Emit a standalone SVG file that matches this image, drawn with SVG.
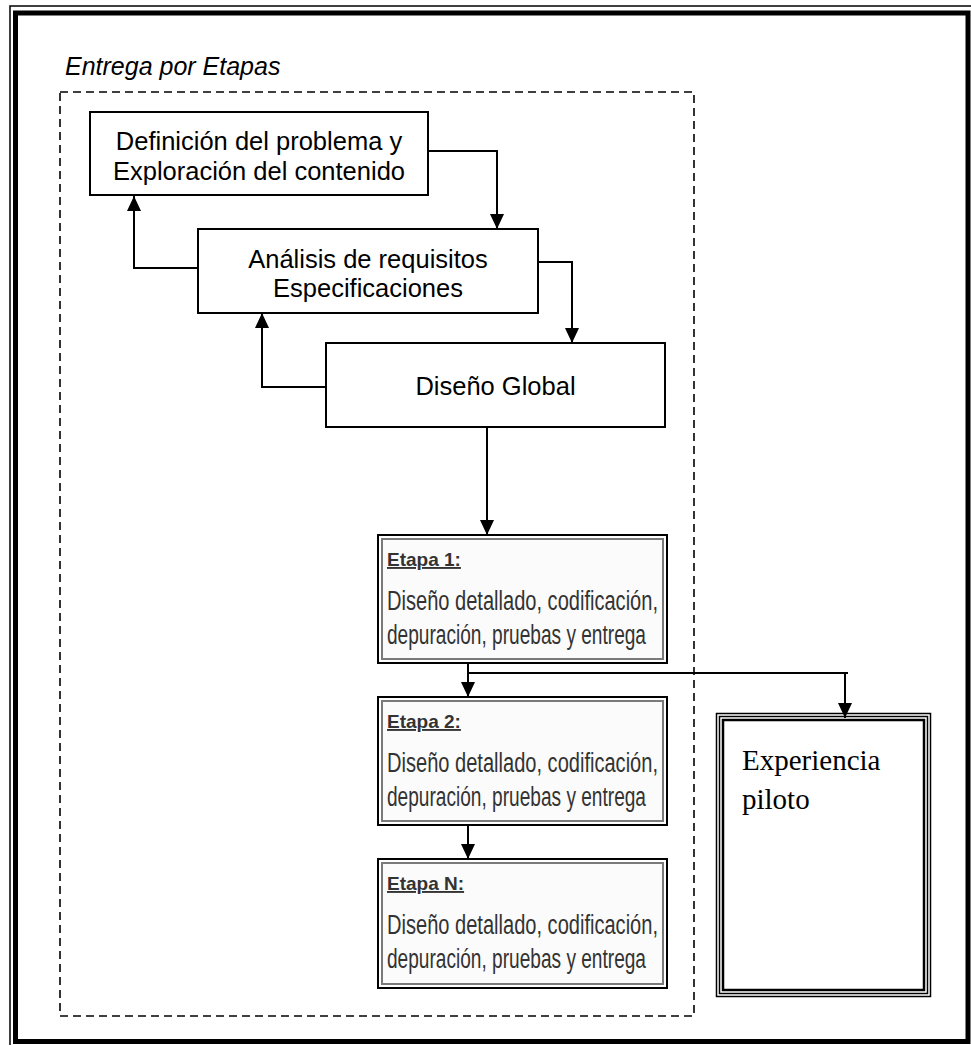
<svg xmlns="http://www.w3.org/2000/svg" width="971" height="1045" viewBox="0 0 971 1045">
  <defs>
    <marker id="arrow" viewBox="0 0 15 14" refX="15" refY="7" markerWidth="15" markerHeight="14" markerUnits="userSpaceOnUse" orient="auto">
      <path d="M0,0 L15,7 L0,14 Z" fill="#000"/>
    </marker>
    <style>
      .box { fill: #fff; stroke: #000; stroke-width: 2; }
      .lbl { font-family: "Liberation Sans", Arial, sans-serif; font-size: 25.5px; fill: #000; text-anchor: middle; }
      .wire { fill: none; stroke: #000; stroke-width: 2; }
      .stage-outer { fill: #fff; stroke: #000; stroke-width: 2; }
      .stage-inner { fill: #fbfbfb; stroke: #7a7a7a; stroke-width: 2; }
      .stage-title { font-family: "Liberation Sans", Arial, sans-serif; font-size: 19px; font-weight: bold; fill: #333; text-decoration: underline; }
      .stage-text { font-family: "Liberation Sans", Arial, sans-serif; font-size: 27px; fill: #333; }
      .pilot { font-family: "Liberation Serif", "Times New Roman", serif; font-size: 29px; fill: #000; }
    </style>
  </defs>

  <!-- page frame: thin outer rule plus thick inner rule -->
  <g id="page-frame" fill="none" stroke="#000">
    <path d="M10,1045 V6 H971" stroke-width="1.5"/>
    <rect x="15.5" y="13" width="952.5" height="1028.5" stroke-width="5"/>
  </g>

  <!-- staged delivery boundary -->
  <g id="boundary">
    <text x="65" y="75" font-family="Liberation Sans, Arial, sans-serif" font-size="25" font-style="italic" fill="#000">Entrega por Etapas</text>
    <rect x="60" y="92" width="634" height="924" fill="none" stroke="#000" stroke-width="1.6" stroke-dasharray="8,5"/>
  </g>

  <g id="node-definicion">
    <rect class="box" x="90" y="112" width="338" height="83"/>
    <text class="lbl" x="259" y="150">Definición del problema y</text>
    <text class="lbl" x="259" y="180">Exploración del contenido</text>
  </g>

  <g id="node-analisis">
    <rect class="box" x="198" y="229" width="340" height="84"/>
    <text class="lbl" x="368" y="268">Análisis de requisitos</text>
    <text class="lbl" x="368" y="297">Especificaciones</text>
  </g>

  <g id="node-diseno-global">
    <rect class="box" x="326" y="343" width="339" height="84"/>
    <text class="lbl" x="495.5" y="395">Diseño Global</text>
  </g>

  <g id="node-etapa-1">
    <rect class="stage-outer" x="378" y="535" width="289" height="128"/>
    <rect class="stage-inner" x="382" y="539" width="281" height="120"/>
    <text class="stage-title" x="387" y="566">Etapa 1:</text>
    <text class="stage-text" x="387" y="610" textLength="271" lengthAdjust="spacingAndGlyphs">Diseño detallado, codificación,</text>
    <text class="stage-text" x="387" y="644" textLength="259" lengthAdjust="spacingAndGlyphs">depuración, pruebas y entrega</text>
  </g>

  <g id="node-etapa-2">
    <rect class="stage-outer" x="378" y="697" width="289" height="128"/>
    <rect class="stage-inner" x="382" y="701" width="281" height="120"/>
    <text class="stage-title" x="387" y="728">Etapa 2:</text>
    <text class="stage-text" x="387" y="772" textLength="271" lengthAdjust="spacingAndGlyphs">Diseño detallado, codificación,</text>
    <text class="stage-text" x="387" y="806" textLength="259" lengthAdjust="spacingAndGlyphs">depuración, pruebas y entrega</text>
  </g>

  <g id="node-etapa-n">
    <rect class="stage-outer" x="378" y="859" width="289" height="129"/>
    <rect class="stage-inner" x="382" y="863" width="281" height="121"/>
    <text class="stage-title" x="387" y="890">Etapa N:</text>
    <text class="stage-text" x="387" y="934" textLength="271" lengthAdjust="spacingAndGlyphs">Diseño detallado, codificación,</text>
    <text class="stage-text" x="387" y="968" textLength="259" lengthAdjust="spacingAndGlyphs">depuración, pruebas y entrega</text>
  </g>

  <g id="node-experiencia">
    <rect x="716.5" y="713.5" width="214" height="283" fill="#fff" stroke="#000" stroke-width="1.5"/>
    <rect x="719.5" y="716.5" width="208" height="277" fill="none" stroke="#000" stroke-width="1.5"/>
    <rect x="723" y="720" width="201" height="270" fill="none" stroke="#000" stroke-width="2.5"/>
    <text class="pilot" x="742" y="770">Experiencia</text>
    <text class="pilot" x="742" y="809">piloto</text>
  </g>

  <g id="connectors">
    <path class="wire" d="M428,151 H497 V229" marker-end="url(#arrow)"/>
    <path class="wire" d="M198,268 H134 V196" marker-end="url(#arrow)"/>
    <path class="wire" d="M538,262 H572 V343" marker-end="url(#arrow)"/>
    <path class="wire" d="M326,387 H262 V313" marker-end="url(#arrow)"/>
    <path class="wire" d="M487,427 V535" marker-end="url(#arrow)"/>
    <path class="wire" d="M468,663 V697" marker-end="url(#arrow)"/>
    <path class="wire" d="M468,673 H848"/>
    <path class="wire" d="M845,673 V718" marker-end="url(#arrow)"/>
    <path class="wire" d="M468,825 V859" marker-end="url(#arrow)"/>
  </g>
</svg>
